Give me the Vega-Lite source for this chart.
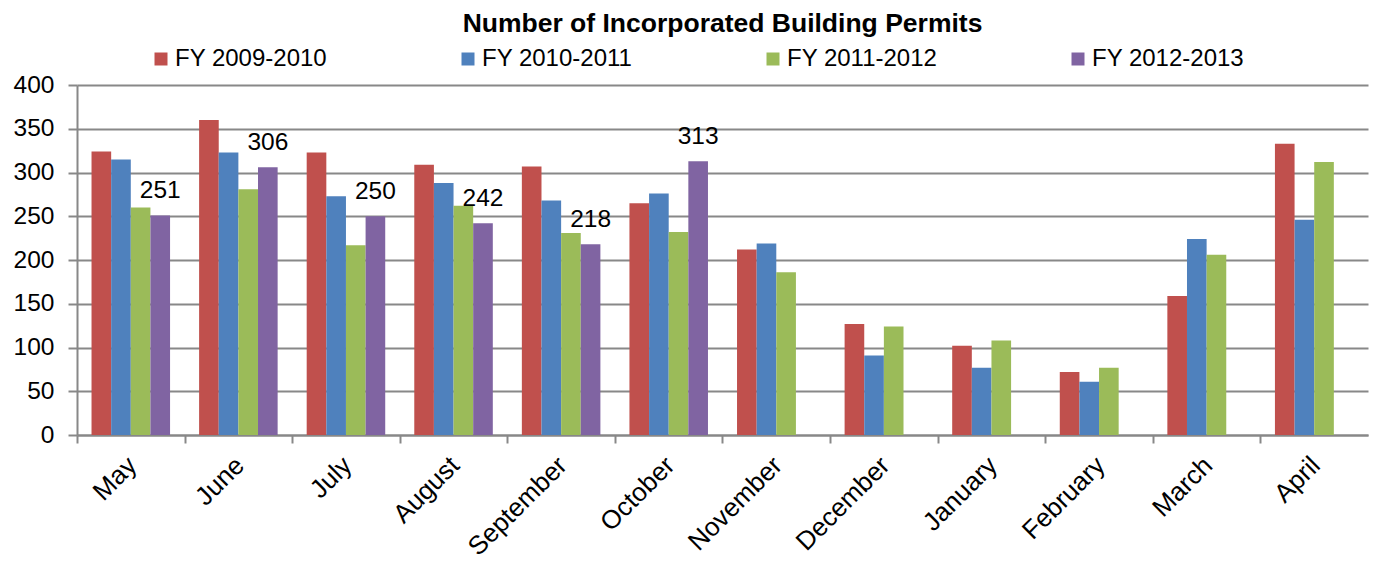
{
  "$schema": "https://vega.github.io/schema/vega-lite/v6.json",
  "width": 1291,
  "height": 350,
  "autosize": "none",
  "padding": {"left": 77, "top": 85, "right": 7, "bottom": 126},
  "background": "white",
  "config": {"font": "Liberation Sans", "view": {"stroke": null}},
  "title": {"text": "Number of Incorporated Building  Permits", "fontSize": 26.5, "fontWeight": "bold", "font": "Liberation Sans", "color": "black", "anchor": "middle", "offset": 10},
  "data": {"values": [
    {"month": "May", "series": "FY 2009-2010", "value": 324},
    {"month": "May", "series": "FY 2010-2011", "value": 315},
    {"month": "May", "series": "FY 2011-2012", "value": 260},
    {"month": "May", "series": "FY 2012-2013", "value": 251},
    {"month": "June", "series": "FY 2009-2010", "value": 360},
    {"month": "June", "series": "FY 2010-2011", "value": 323},
    {"month": "June", "series": "FY 2011-2012", "value": 281},
    {"month": "June", "series": "FY 2012-2013", "value": 306},
    {"month": "July", "series": "FY 2009-2010", "value": 323},
    {"month": "July", "series": "FY 2010-2011", "value": 273},
    {"month": "July", "series": "FY 2011-2012", "value": 217},
    {"month": "July", "series": "FY 2012-2013", "value": 250},
    {"month": "August", "series": "FY 2009-2010", "value": 309},
    {"month": "August", "series": "FY 2010-2011", "value": 288},
    {"month": "August", "series": "FY 2011-2012", "value": 262},
    {"month": "August", "series": "FY 2012-2013", "value": 242},
    {"month": "September", "series": "FY 2009-2010", "value": 307},
    {"month": "September", "series": "FY 2010-2011", "value": 268},
    {"month": "September", "series": "FY 2011-2012", "value": 231},
    {"month": "September", "series": "FY 2012-2013", "value": 218},
    {"month": "October", "series": "FY 2009-2010", "value": 265},
    {"month": "October", "series": "FY 2010-2011", "value": 276},
    {"month": "October", "series": "FY 2011-2012", "value": 232},
    {"month": "October", "series": "FY 2012-2013", "value": 313},
    {"month": "November", "series": "FY 2009-2010", "value": 212},
    {"month": "November", "series": "FY 2010-2011", "value": 219},
    {"month": "November", "series": "FY 2011-2012", "value": 186},
    {"month": "December", "series": "FY 2009-2010", "value": 127},
    {"month": "December", "series": "FY 2010-2011", "value": 91},
    {"month": "December", "series": "FY 2011-2012", "value": 124},
    {"month": "January", "series": "FY 2009-2010", "value": 102},
    {"month": "January", "series": "FY 2010-2011", "value": 77},
    {"month": "January", "series": "FY 2011-2012", "value": 108},
    {"month": "February", "series": "FY 2009-2010", "value": 72},
    {"month": "February", "series": "FY 2010-2011", "value": 61},
    {"month": "February", "series": "FY 2011-2012", "value": 77},
    {"month": "March", "series": "FY 2009-2010", "value": 159},
    {"month": "March", "series": "FY 2010-2011", "value": 224},
    {"month": "March", "series": "FY 2011-2012", "value": 206},
    {"month": "April", "series": "FY 2009-2010", "value": 333},
    {"month": "April", "series": "FY 2010-2011", "value": 246},
    {"month": "April", "series": "FY 2011-2012", "value": 312}
  ]},
  "encoding": {
    "x": {
      "field": "month", "type": "nominal",
      "sort": ["May", "June", "July", "August", "September", "October", "November", "December", "January", "February", "March", "April"],
      "scale": {"paddingInner": 0.27, "paddingOuter": 0.135},
      "axis": {
        "title": null, "labelAngle": -45, "labelAlign": "right", "labelBaseline": "middle",
        "labelFontSize": 26, "labelColor": "black", "labelFont": "Liberation Sans",
        "tickSize": 8, "tickOffset": -53.8, "labelOffset": 55, "labelPadding": 18,
        "domainColor": "#888888", "domainWidth": 2, "tickColor": "#888888", "tickWidth": 2,
        "grid": false
      }
    },
    "xOffset": {"field": "series", "type": "nominal", "sort": ["FY 2009-2010", "FY 2010-2011", "FY 2011-2012", "FY 2012-2013"]},
    "y": {
      "field": "value", "type": "quantitative",
      "scale": {"domain": [0, 400]},
      "axis": {
        "title": null, "values": [0, 50, 100, 150, 200, 250, 300, 350, 400],
        "labelFontSize": 24.5, "labelColor": "black", "labelFont": "Liberation Sans",
        "tickSize": 9, "labelPadding": 14,
        "domainColor": "#888888", "domainWidth": 2, "tickColor": "#888888", "tickWidth": 2,
        "gridColor": "#888888", "gridWidth": 2
      }
    }
  },
  "layer": [
    {
      "mark": {"type": "bar"},
      "encoding": {
        "color": {
          "field": "series", "type": "nominal",
          "scale": {"domain": ["FY 2009-2010", "FY 2010-2011", "FY 2011-2012", "FY 2012-2013"], "range": ["#C0504D", "#4F81BD", "#9BBB59", "#8064A2"]},
          "legend": {
            "orient": "none", "legendX": 72, "legendY": -38, "direction": "horizontal", "columns": 4,
            "title": null, "symbolType": "square", "symbolSize": 169, "symbolStrokeWidth": 0,
            "labelFontSize": 24, "labelColor": "black", "labelFont": "Liberation Sans", "labelOffset": 2,
            "columnPadding": 128, "padding": 0, "labelLimit": 400
          }
        }
      }
    },
    {
      "transform": [{"filter": "datum.series == 'FY 2012-2013'"}],
      "mark": {"type": "text", "dy": -17, "baseline": "alphabetic", "fontSize": 24.5, "color": "black", "font": "Liberation Sans"},
      "encoding": {"text": {"field": "value", "type": "quantitative"}}
    }
  ]
}
